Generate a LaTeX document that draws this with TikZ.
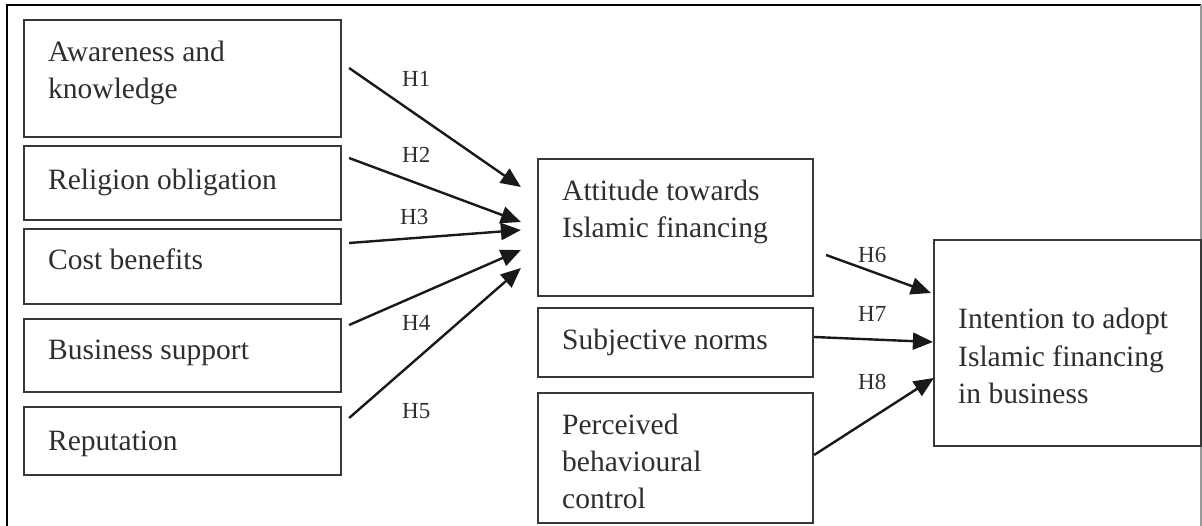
\documentclass[tikz,border=0pt]{standalone}
\usepackage{fontspec}
\setmainfont{Liberation Serif}
\usetikzlibrary{arrows.meta,calc}
\definecolor{ink}{HTML}{2E2E2E}
\definecolor{edge}{HTML}{383838}
\begin{document}
\begin{tikzpicture}[x=1pt,y=-1pt,
  box/.style={draw=edge,line width=2.2pt,rectangle,inner sep=0pt,minimum width=#1},
  box/.default=317,
  txt/.style={anchor=base west,inner sep=0pt,align=left,text=ink,
    font=\fontsize{29.5}{37}\selectfont},
  hyp/.style={anchor=base west,inner sep=0pt,text=ink,font=\fontsize{23}{27}\selectfont},
  arr/.style={line width=2.4pt,draw=black!90,-{Triangle[length=20pt,width=17pt]}}]
\useasboundingbox (0,0) rectangle (1202,526);
% outer frame
\draw[line width=2.5pt,black] (7,526) -- (7,5) -- (1201,5);
\draw[line width=1.5pt,black!40] (1201,5) -- (1201,526);
% left column
\node[box,minimum height=117] (a1) at (182.5,78.5) {};
\node[box,minimum height=74] (a2) at (182.5,183) {};
\node[box,minimum height=75] (a3) at (182.5,266.5) {};
\node[box,minimum height=73] (a4) at (182.5,355.5) {};
\node[box,minimum height=68] (a5) at (182.5,441) {};
% middle column
\node[box=275,minimum height=137] (att) at (675.5,227.5) {};
\node[box=275,minimum height=69] (sub) at (675.5,342.5) {};
\node[box=275,minimum height=130] (pbc) at (675.5,458) {};
% right
\node[box=267,minimum height=206] (int) at (1067.5,343) {};
% texts (base = baseline of last line)
\node[txt] (t1) at (48,99) {Awareness and\\knowledge};
\node[txt] (t2) at (48,190) {Religion obligation};
\node[txt] (t3) at (48,270) {Cost benefits};
\node[txt] (t4) at (48,360) {Business support};
\node[txt] (t5) at (48,450) {Reputation};
\node[txt] (t6) at (562,238) {Attitude towards\\Islamic financing};
\node[txt] (t7) at (562,350) {Subjective norms};
\node[txt] (t8) at (562,508) {Perceived\\behavioural\\control};
\node[txt] (t9) at (958,403) {Intention to adopt\\Islamic financing\\in business};
% arrows
\draw[arr] ($(a1.east)+(7,-10.5)$) -- ($(att.west)+(-16,-40.5)$);
\draw[arr] ($(a2.east)+(7,-25)$) -- ($(att.west)+(-16,-5.5)$);
\draw[arr] ($(a3.east)+(7,-23.5)$) -- ($(att.west)+(-16,2.5)$);
\draw[arr] ($(a4.east)+(7,-30.5)$) -- ($(att.west)+(-16,22.5)$);
\draw[arr] ($(a5.east)+(7,-23)$) -- ($(att.west)+(-16,40.5)$);
\draw[arr] ($(att.east)+(12,27.5)$) -- ($(int.west)+(-2,-50)$);
\draw[arr] ($(sub.east)+(0,-5.5)$) -- ($(int.west)+(0,-1)$);
\draw[arr] ($(pbc.east)+(0,-3)$) -- ($(int.west)+(1,35)$);
% hypothesis labels
\node[hyp] (h1) at (402,87) {H1};
\node[hyp] (h2) at (402,163) {H2};
\node[hyp] (h3) at (400,225) {H3};
\node[hyp] (h4) at (402,331) {H4};
\node[hyp] (h5) at (402,418) {H5};
\node[hyp] (h6) at (858,263) {H6};
\node[hyp] (h7) at (858,322) {H7};
\node[hyp] (h8) at (858,390) {H8};
\end{tikzpicture}
\end{document}
